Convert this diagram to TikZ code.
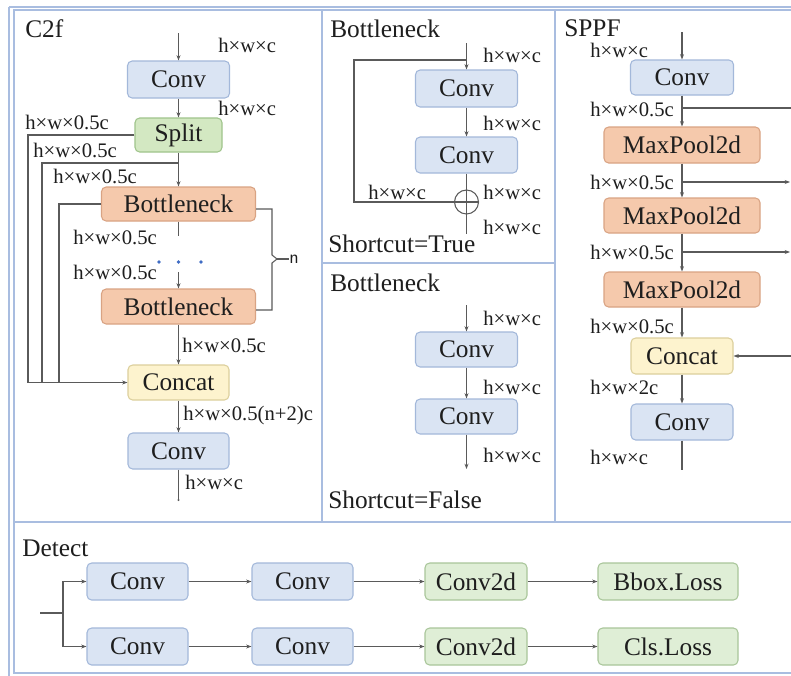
\documentclass[tikz,border=0pt]{standalone}
\usepackage{fontspec}
\setmainfont{Liberation Serif}
\usetikzlibrary{arrows.meta}
\definecolor{ln}{HTML}{5A5A5A}
\definecolor{framec}{HTML}{A9BDE0}
\definecolor{bluef}{HTML}{DAE4F3}
\definecolor{blued}{HTML}{A3B8DA}
\definecolor{orf}{HTML}{F5C9AC}
\definecolor{ord}{HTML}{D9A383}
\definecolor{grf}{HTML}{D3E8C2}
\definecolor{grd}{HTML}{9FC48B}
\definecolor{lgf}{HTML}{DFEED6}
\definecolor{lgd}{HTML}{A9C69A}
\definecolor{yef}{HTML}{FDF3CE}
\definecolor{yed}{HTML}{DCCF9C}
\definecolor{dotc}{HTML}{3F6CC4}
\definecolor{txt}{HTML}{1E1E1E}
\begin{document}
\begin{tikzpicture}[x=0.75pt,y=-0.75pt,
  box/.style={draw, rounded corners=3.5pt, line width=0.8pt, inner sep=0pt,
    font=\fontsize{19}{22}\selectfont, text=txt},
  wd/.style={minimum width=#1*0.75pt},
  ht/.style={minimum height=#1*0.75pt},
  convbox/.style={box, fill=bluef, draw=blued},
  poolbox/.style={box, fill=orf, draw=ord},
  splitbox/.style={box, fill=grf, draw=grd},
  headbox/.style={box, fill=lgf, draw=lgd},
  catbox/.style={box, fill=yef, draw=yed},
  lab/.style={anchor=west, inner sep=0pt, text=txt,
    font=\fontsize{15.5}{17}\selectfont},
  ttl/.style={anchor=base west, inner sep=0pt, text=txt,
    font=\fontsize{19}{22}\selectfont},
  wire/.style={draw=ln, line width=0.8pt},
  arr/.style={wire, -{Stealth[length=4pt,width=3pt]}},
  panel/.style={draw=framec, line width=1.1pt},
]
\clip (0,0) rectangle (791,675);
\fill[white] (0,0) rectangle (791,675);

% ---------- frames ----------
\draw[panel] (9,7) -- (800,7);
\draw[panel] (9,7) -- (9,680);
\draw[panel] (14,10) rectangle (805,673);
\draw[panel] (322,10) -- (322,522);
\draw[panel] (555,10) -- (555,522);
\draw[panel] (322,263) -- (555,263);
\draw[panel] (14,522) -- (805,522);

% ---------- C2f ----------
\node[ttl] (tc2f) at (25,37) {C2f};
\node[convbox, wd=102, ht=37] (c2conv1) at (178.5,79.5) {Conv};
\node[splitbox, wd=87, ht=34] (split) at (178.5,135) {Split};
\node[poolbox, wd=154, ht=34] (bn1) at (178.5,204) {Bottleneck};
\node[poolbox, wd=154, ht=35] (bn2) at (178.5,306.5) {Bottleneck};
\node[catbox, wd=101, ht=35] (concat) at (178.5,382.5) {Concat};
\node[convbox, wd=101, ht=36] (c2conv2) at (178.5,451) {Conv};

\coordinate (c2in) at (178.5,33);
\coordinate (c2out) at (178.5,500);
\coordinate (t2) at (178.5,163);
\coordinate (b1) at (28,382.5);
\coordinate (b2) at (42,382.5);
\coordinate (b3) at (59,382.5);
\coordinate (bnend) at (178.5,236);
\coordinate (bnstart) at (178.5,272);

\draw[arr] (c2in) -- (c2conv1);
\draw[arr] (c2conv1) -- (split);
\draw[arr] (split) -- (bn1);
\draw[arr] (split.west) -| (b1) -- (concat.west);
\draw[wire] (t2) -| (b2);
\draw[wire] (bn1.west) -| (b3);
\draw[wire] (bn1.south) -- (bnend);
\draw[arr] (bnstart) -- (bn2);
\draw[arr] (bn2) -- (concat);
\draw[arr] (concat) -- (c2conv2);
\draw[wire] (c2conv2.south) -- (c2out);
\fill[ln] (c2out) circle (1.2);

\foreach \dx in {159,178.5,201}
  \fill[dotc] (\dx,262) circle (1.8);

% repeat bracket
\coordinate (brt) at (272,209);
\coordinate (brb) at (272,310);
\coordinate (brm) at (277,259);
\coordinate (brn) at (289,259);
\draw[wire] (bn1.east |- brt) -- (brt) -- (272,255) -- (brm) -- (272,263) -- (brb) -- (bn2.east |- brb);
\draw[wire] (brm) -- (brn);
\node[anchor=west, inner sep=0pt, text=txt, font=\fontsize{14}{16}\selectfont\sffamily] (nlab) at (brn) {n};

\node[lab] (l1) at (218,45) {h×w×c};
\node[lab] (l2) at (218,108) {h×w×c};
\node[lab] (l3) at (25,122) {h×w×0.5c};
\node[lab] (l4) at (33,150) {h×w×0.5c};
\node[lab] (l5) at (53,176) {h×w×0.5c};
\node[lab] (l6) at (73,237) {h×w×0.5c};
\node[lab] (l7) at (73,272) {h×w×0.5c};
\node[lab] (l8) at (182,345) {h×w×0.5c};
\node[lab] (l9) at (183,416) {h×w×0.5(n+2)c};
\node[lab] (l10) at (185,482) {h×w×c};

% ---------- Bottleneck, shortcut ----------
\node[ttl] (tbt) at (330,37) {Bottleneck};
\node[convbox, wd=102, ht=37] (bta) at (466.5,88.5) {Conv};
\node[convbox, wd=102, ht=36] (btb) at (466.5,155) {Conv};
\node[circle, draw=ln, line width=0.8pt, minimum size=24*0.75pt, inner sep=0pt] (add) at (466.5,202) {};
\coordinate (btin) at (466.5,43);
\coordinate (bts) at (466.5,60);
\coordinate (btl) at (354,60);
\coordinate (btout) at (466.5,234);
\draw[arr] (btin) -- (bta);
\draw[wire] (bts) -- (btl) |- (add.east);
\draw[arr] (bta) -- (btb);
\draw[wire] (btb.south) -- (btout);
\node[lab] (bl1) at (483,55) {h×w×c};
\node[lab] (bl2) at (483,123) {h×w×c};
\node[lab] (bl3) at (368,192) {h×w×c};
\node[lab] (bl4) at (483,192) {h×w×c};
\node[lab] (bl5) at (483,227) {h×w×c};
\node[ttl] (tst) at (328,252) {Shortcut=True};

% ---------- Bottleneck, no shortcut ----------
\node[ttl] (tbf) at (330,291) {Bottleneck};
\node[convbox, wd=102, ht=35] (bfa) at (466.5,349.5) {Conv};
\node[convbox, wd=102, ht=35] (bfb) at (466.5,416.5) {Conv};
\coordinate (bfin) at (466.5,305);
\coordinate (bfout) at (466.5,469);
\draw[arr] (bfin) -- (bfa);
\draw[arr] (bfa) -- (bfb);
\draw[arr] (bfb) -- (bfout);
\node[lab] (fl1) at (483,318) {h×w×c};
\node[lab] (fl2) at (483,387) {h×w×c};
\node[lab] (fl3) at (483,455) {h×w×c};
\node[ttl] (tsf) at (328,508) {Shortcut=False};

% ---------- SPPF ----------
\node[ttl] (tsppf) at (564,36) {SPPF};
\node[convbox, wd=103, ht=35] (sconv1) at (682,77.5) {Conv};
\node[poolbox, wd=156, ht=36] (mp1) at (682,145) {MaxPool2d};
\node[poolbox, wd=156, ht=35] (mp2) at (682,215.5) {MaxPool2d};
\node[poolbox, wd=156, ht=35] (mp3) at (682,289.5) {MaxPool2d};
\node[catbox, wd=102, ht=36] (sconcat) at (682,356) {Concat};
\node[convbox, wd=102, ht=36] (sconv2) at (682,422) {Conv};
\coordinate (sin) at (682,32);
\coordinate (sout) at (682,470);
\coordinate (s1) at (682,108);
\coordinate (s2) at (682,182);
\coordinate (s3) at (682,252);
\coordinate (e1) at (791,108);
\coordinate (e2) at (790,182);
\coordinate (e3) at (790,252);
\coordinate (e4) at (791,356);
\draw[arr] (sin) -- (sconv1);
\draw[arr] (sconv1) -- (mp1);
\draw[arr] (mp1) -- (mp2);
\draw[arr] (mp2) -- (mp3);
\draw[arr] (mp3) -- (sconcat);
\draw[arr] (sconcat) -- (sconv2);
\draw[wire] (sconv2.south) -- (sout);
\draw[wire] (s1) -- (e1);
\draw[arr] (s2) -- (e2);
\draw[arr] (s3) -- (e3);
\draw[arr] (e4) -- (sconcat.east);
\node[lab] (sl1) at (590,50) {h×w×c};
\node[lab] (sl2) at (590,109) {h×w×0.5c};
\node[lab] (sl3) at (590,182) {h×w×0.5c};
\node[lab] (sl4) at (590,252) {h×w×0.5c};
\node[lab] (sl5) at (590,326) {h×w×0.5c};
\node[lab] (sl6) at (590,387) {h×w×2c};
\node[lab] (sl7) at (590,457) {h×w×c};

% ---------- Detect ----------
\node[ttl] (tdet) at (22,556) {Detect};
\node[convbox, wd=101, ht=37] (d11) at (137.5,581.5) {Conv};
\node[convbox, wd=101, ht=37] (d12) at (302.5,581.5) {Conv};
\node[headbox, wd=102, ht=37] (d13) at (476,581.5) {Conv2d};
\node[headbox, wd=140, ht=37] (d14) at (668,581.5) {Bbox.Loss};
\node[convbox, wd=101, ht=37] (d21) at (137.5,646.5) {Conv};
\node[convbox, wd=101, ht=37] (d22) at (302.5,646.5) {Conv};
\node[headbox, wd=102, ht=37] (d23) at (476,646.5) {Conv2d};
\node[headbox, wd=140, ht=37] (d24) at (668,646.5) {Cls.Loss};
\coordinate (din) at (40,613);
\coordinate (djn) at (63,613);
\draw[wire] (din) -- (djn);
\draw[arr] (djn) |- (d11.west);
\draw[arr] (djn) |- (d21.west);
\draw[arr] (d11) -- (d12);
\draw[arr] (d12) -- (d13);
\draw[arr] (d13) -- (d14);
\draw[arr] (d21) -- (d22);
\draw[arr] (d22) -- (d23);
\draw[arr] (d23) -- (d24);
\end{tikzpicture}
\end{document}
